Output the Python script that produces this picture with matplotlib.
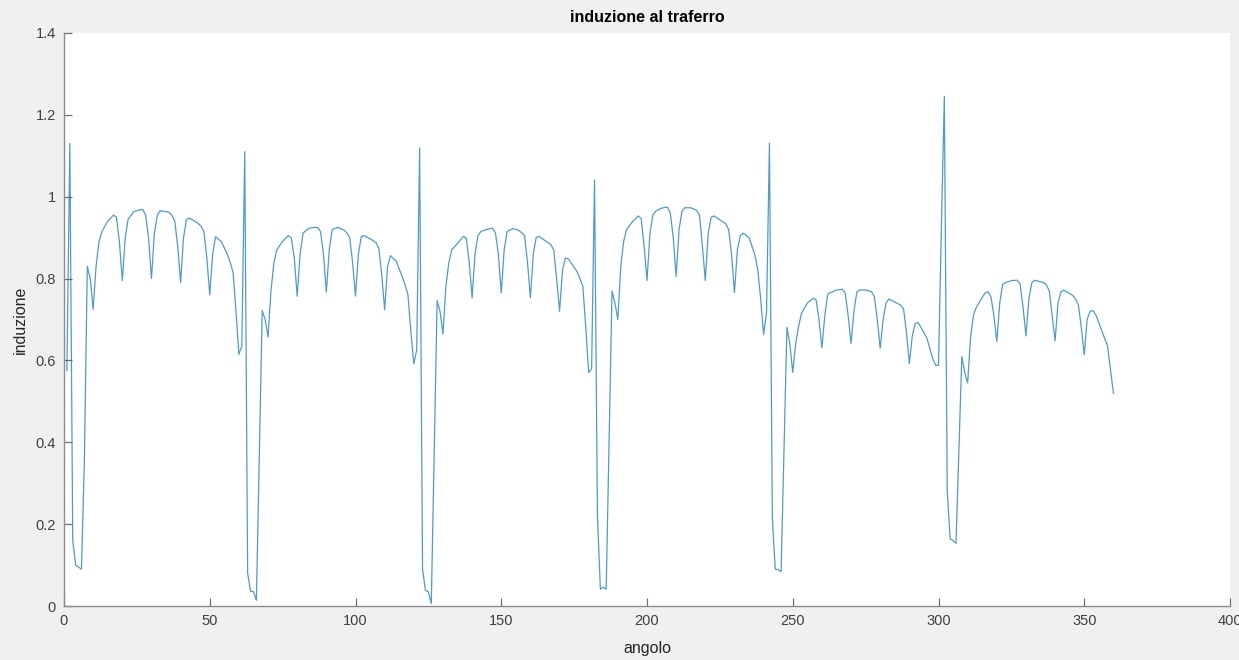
import matplotlib
matplotlib.use("Agg")
import matplotlib.pyplot as plt

# Sampled vertices of the air-gap flux density waveform (angle in degrees)
angolo_p1 = [1, 2, 3, 4, 5, 6, 7, 8, 9, 10, 11, 12, 13, 15, 17, 18, 19, 20, 21, 22, 24, 26, 27, 28, 29, 30,
             31, 32, 33, 36, 37, 38, 39, 40, 41, 42, 43, 46, 47, 48, 49, 50, 51, 52, 54, 56, 57, 58, 59, 60, 61, 62]
induzione_p1 = [0.575, 1.13, 0.16, 0.10, 0.095, 0.09, 0.36, 0.83, 0.80, 0.725, 0.83, 0.89, 0.915, 0.94, 0.955,
                0.95, 0.89, 0.795, 0.90, 0.945, 0.964, 0.968, 0.969, 0.955, 0.90, 0.80,
                0.91, 0.955, 0.966, 0.962, 0.955, 0.94, 0.88, 0.79, 0.90, 0.944, 0.948, 0.935, 0.928, 0.915,
                0.85, 0.76, 0.86, 0.902, 0.89, 0.86, 0.84, 0.815, 0.72, 0.615, 0.635, 1.11]

angolo_p2 = [63, 64, 65, 66, 68, 69, 70, 71, 72, 73, 75, 77, 78, 79, 80, 81, 82, 84, 86, 87, 88, 89, 90,
             91, 92, 94, 96, 97, 98, 99, 100, 101, 102, 103, 106, 107, 108, 109, 110, 111, 112, 114, 116,
             117, 118, 119, 120, 121, 122]
induzione_p2 = [0.08, 0.036, 0.035, 0.014, 0.722, 0.70, 0.657, 0.77, 0.838, 0.87, 0.891, 0.905, 0.899, 0.85,
                0.757, 0.86, 0.911, 0.923, 0.925, 0.925, 0.915, 0.86, 0.767,
                0.87, 0.92, 0.925, 0.919, 0.912, 0.90, 0.84, 0.757, 0.86, 0.903, 0.905, 0.893, 0.888, 0.874,
                0.81, 0.724, 0.83, 0.856, 0.842, 0.805, 0.785, 0.76, 0.67, 0.592, 0.626, 1.119]

angolo_p3 = [123, 124, 125, 126, 128, 129, 130, 131, 132, 133, 135, 137, 138, 139, 140, 141, 142, 143, 145,
             147, 148, 149, 150, 151, 152, 154, 156, 157, 158, 159, 160, 161, 162, 163, 167, 168, 169, 170,
             171, 172, 173, 176, 177, 178, 179, 180, 181, 182]
induzione_p3 = [0.09, 0.038, 0.035, 0.006, 0.746, 0.72, 0.665, 0.78, 0.838, 0.87, 0.886, 0.903, 0.899, 0.84,
                0.753, 0.86, 0.905, 0.915, 0.92, 0.923, 0.912, 0.86, 0.765, 0.87, 0.915, 0.922, 0.918,
                0.912, 0.905, 0.84, 0.753, 0.86, 0.901, 0.903, 0.883, 0.87, 0.80, 0.72,
                0.82, 0.85, 0.848, 0.817, 0.80, 0.781, 0.68, 0.57, 0.58, 1.041]

angolo_p4 = [183, 184, 185, 186, 188, 189, 190, 191, 192, 193, 195, 197, 198, 199, 200, 201, 202, 203, 205,
             207, 208, 209, 210, 211, 212, 213, 215, 217, 218, 219, 220, 221, 222, 223, 227, 228, 229, 230,
             231, 232, 233, 235, 237, 238, 239, 240, 241, 242]
induzione_p4 = [0.22, 0.041, 0.046, 0.041, 0.77, 0.74, 0.70, 0.83, 0.891, 0.92, 0.939, 0.953, 0.947, 0.88,
                0.795, 0.91, 0.955, 0.965, 0.972, 0.975, 0.96, 0.90, 0.805, 0.92, 0.965, 0.973, 0.973,
                0.967, 0.955, 0.88, 0.795, 0.91, 0.95, 0.953, 0.934, 0.92, 0.86, 0.766,
                0.87, 0.905, 0.911, 0.90, 0.858, 0.822, 0.75, 0.663, 0.716, 1.131]

angolo_p5 = [243, 244, 245, 246, 248, 249, 250, 251, 252, 253, 255, 257, 258, 259, 260, 261, 262, 263, 265,
             267, 268, 269, 270, 271, 272, 273, 275, 277, 278, 279, 280, 281, 282, 283, 287, 288, 289, 290,
             291, 292, 293, 296, 297, 298, 299, 300, 301, 302]
induzione_p5 = [0.215, 0.09, 0.089, 0.084, 0.681, 0.64, 0.571, 0.64, 0.683, 0.715, 0.74, 0.752, 0.748, 0.70,
                0.631, 0.71, 0.762, 0.766, 0.772, 0.774, 0.764, 0.71, 0.641, 0.72, 0.768, 0.772, 0.772,
                0.768, 0.756, 0.70, 0.63, 0.70, 0.74, 0.75, 0.735, 0.726, 0.67, 0.592,
                0.66, 0.69, 0.693, 0.655, 0.63, 0.605, 0.588, 0.588, 0.93, 1.245]

angolo_p6 = [303, 304, 305, 306, 308, 309, 310, 311, 312, 313, 314, 316, 317, 318, 319, 320, 321, 322, 323,
             325, 327, 328, 329, 330, 331, 332, 333, 336, 337, 338, 339, 340, 341, 342, 343, 346, 347, 348,
             349, 350, 351, 352, 353, 354, 356, 358, 360]
induzione_p6 = [0.28, 0.164, 0.16, 0.153, 0.61, 0.57, 0.545, 0.656, 0.711, 0.73, 0.742, 0.765, 0.768, 0.755,
                0.71, 0.646, 0.74, 0.786, 0.79, 0.795, 0.796, 0.786, 0.73, 0.66, 0.75, 0.79, 0.796, 0.79,
                0.785, 0.77, 0.71, 0.648, 0.74, 0.768, 0.772, 0.759, 0.75, 0.735,
                0.68, 0.614, 0.70, 0.72, 0.722, 0.711, 0.673, 0.635, 0.52]

angolo = angolo_p1 + angolo_p2 + angolo_p3 + angolo_p4 + angolo_p5 + angolo_p6
induzione = induzione_p1 + induzione_p2 + induzione_p3 + induzione_p4 + induzione_p5 + induzione_p6

xticks = [0, 50, 100, 150, 200, 250, 300, 350, 400]
yticks = [0, 0.2, 0.4, 0.6, 0.8, 1.0, 1.2, 1.4]
ytick_labels = ["0", "0.2", "0.4", "0.6", "0.8", "1", "1.2", "1.4"]

plt.rcParams['font.family'] = ['Liberation Sans', 'DejaVu Sans']

W, H = 1239, 660
fig = plt.figure(figsize=(W / 100, H / 100), dpi=100, facecolor='#f0f0f0')
ax = fig.add_axes([64 / W, 1 - 606 / H, (1230 - 64) / W, (606 - 33) / H])
ax.set_facecolor('white')

ax.plot(angolo, induzione, color='#0072BD', linewidth=0.9, alpha=0.7)

ax.set_xlim(0, 400)
ax.set_ylim(0, 1.4)
ax.set_xticks(xticks)
ax.set_yticks(yticks)
ax.set_yticklabels(ytick_labels)

for s in ['top', 'right']:
    ax.spines[s].set_visible(False)
for s in ['left', 'bottom']:
    ax.spines[s].set_color('#8c8c8c')
    ax.spines[s].set_linewidth(1.0)

ax.tick_params(direction='in', length=6, width=0.9, color='#707070',
               labelcolor='#404040', labelsize=10.5, pad=6)

ax.set_xlabel('angolo', fontsize=11.5, color='#262626', labelpad=9)
ax.set_ylabel('induzione', fontsize=11.5, color='#262626', labelpad=5)
ax.set_title('induzione al traferro', fontsize=11.5, fontweight='bold', color='#000000', pad=8)

fig.savefig('out.png', dpi=100, facecolor=fig.get_facecolor())
